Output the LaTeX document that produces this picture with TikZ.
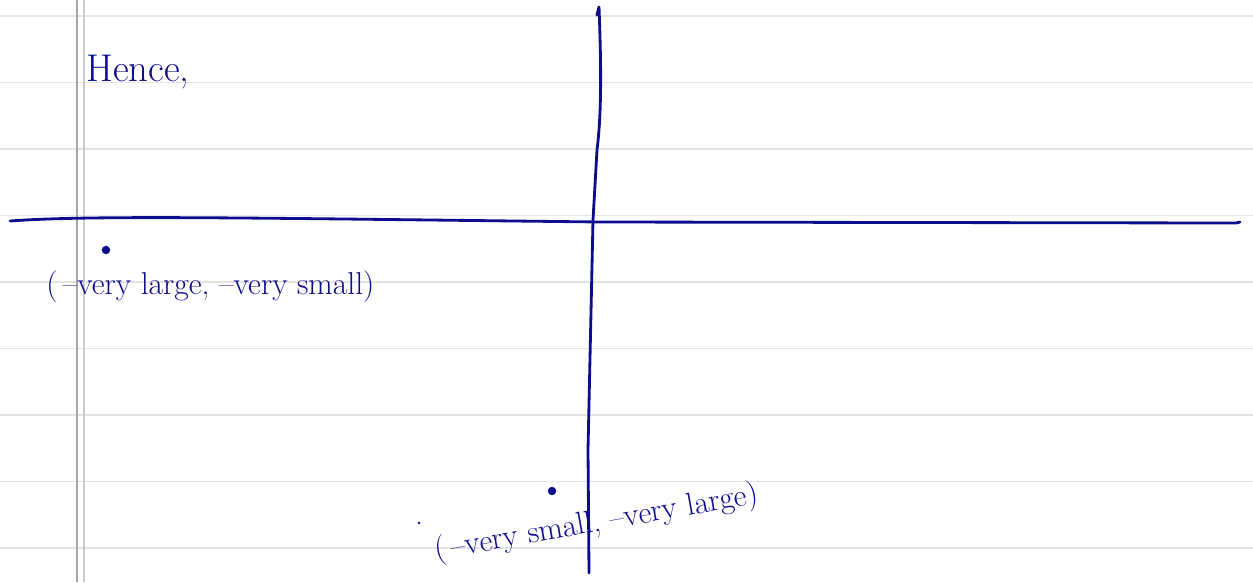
\documentclass[tikz,border=0pt]{standalone}
\usepackage{xcolor}
\usepackage{tikz}
\usetikzlibrary{positioning}
\definecolor{ink}{RGB}{12,12,140}

\begin{document}
\begin{tikzpicture}[x=0.02cm, y=-0.02cm,
    pen/.style={ink, line width=1.6pt, line cap=round, line join=round},
    hand/.style={ink, inner sep=0pt, font=\fontsize{18}{18}\selectfont}]
  \def\ruleh{66.5}
  \useasboundingbox (0,0) rectangle (1253,582);
  \fill[white] (0,0) rectangle (1253,582);
  % ruled paper
  \foreach \k in {0,...,8}
    \draw[line width=1pt, gray!22] (0,16+\k*\ruleh) -- (1253,16+\k*\ruleh);
  \draw[line width=0.8pt, gray!70] (77,0) -- (77,582);
  \draw[line width=0.8pt, gray!40] (84,0) -- (84,582);
  % axes
  \draw[pen] (10,221) .. controls (90,215) and (250,218) .. (600,222) -- (1232,223) .. controls (1237,223) .. (1240,222);
  \draw[pen] (597,15) -- (599,7) .. controls (601,60) and (602,110) .. (597,150) -- (593,220) -- (588,450) -- (589,573);
  % points
  \coordinate (ptA) at (106,250);
  \coordinate (ptB) at (552,491);
  \fill[ink] (ptA) circle (2.4pt);
  \fill[ink] (ptB) circle (2.4pt);
  \fill[ink] (419,523) circle (0.8pt);
  % texts
  \node[hand, anchor=base west, font=\fontsize{22}{22}\selectfont] (hence) at (86,81) {Hence,};
  \node[hand, anchor=base west] (lblA) at (46,294) {(\,--very large, --very small)};
  \node[hand, anchor=base west, rotate=10] (lblB) at (436,560) {(\,--very small, --very large)};
\end{tikzpicture}
\end{document}
